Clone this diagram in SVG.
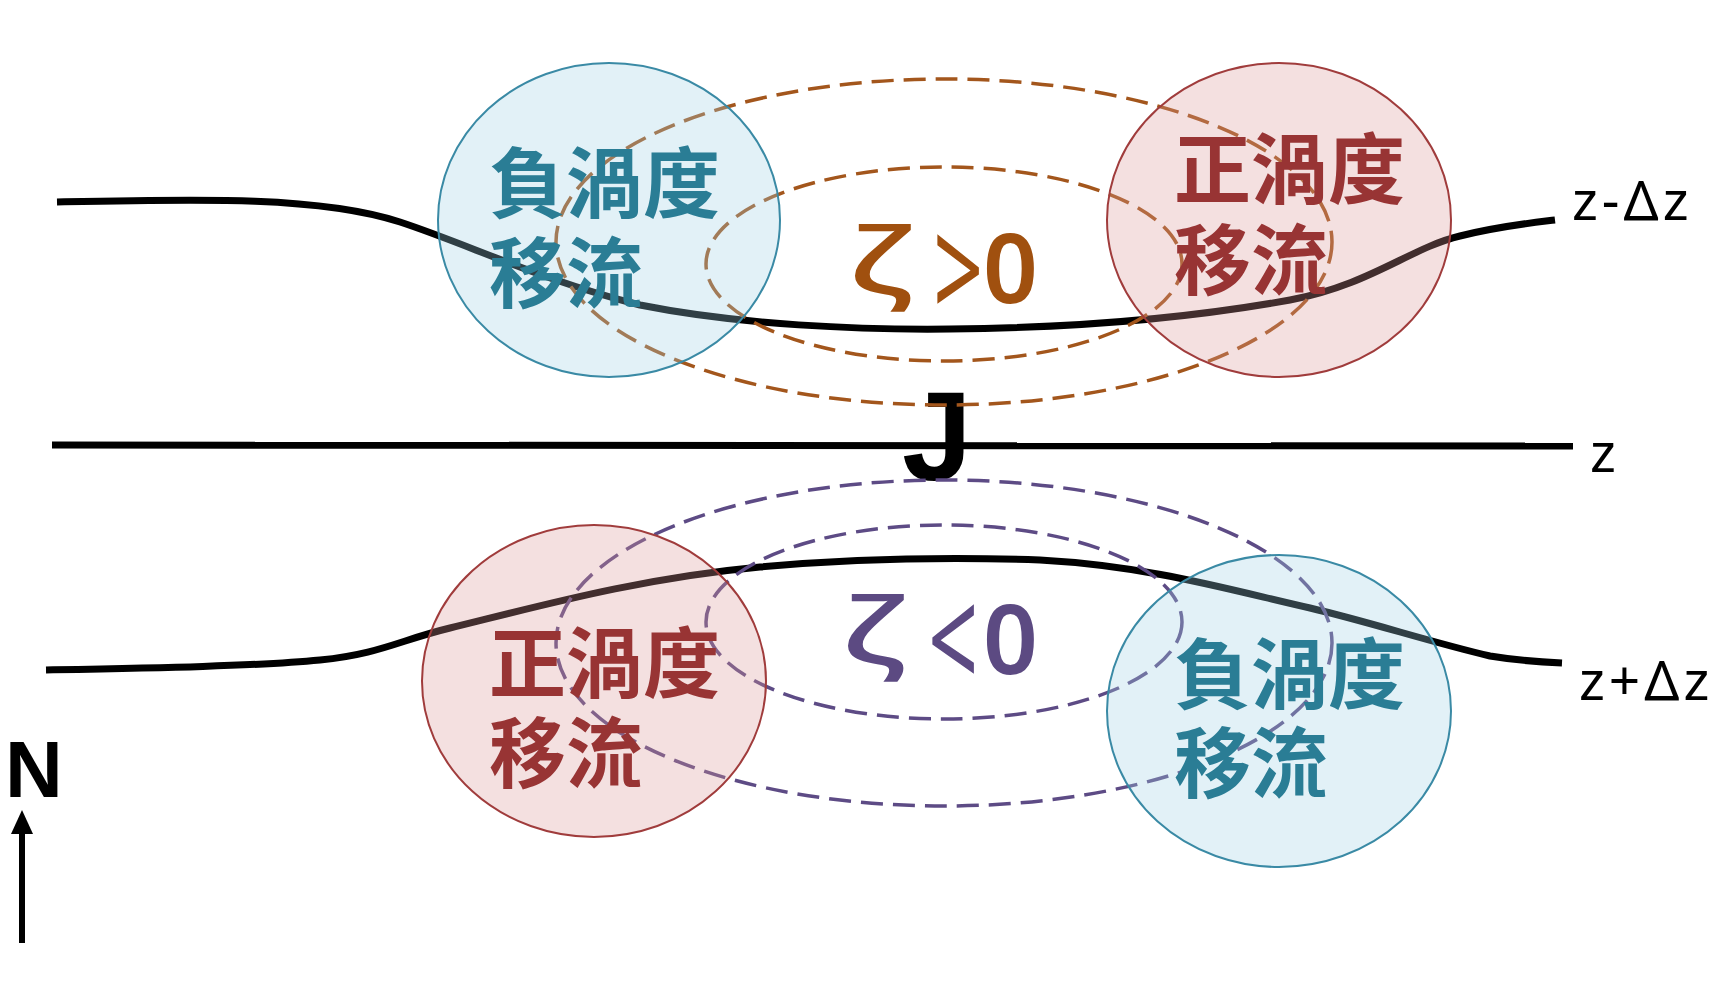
<svg xmlns="http://www.w3.org/2000/svg" width="1722" height="992" viewBox="0 0 1722 992">
<style>
.iso{fill:none;stroke:#000;stroke-width:7;stroke-linecap:butt}
.lbl{font-family:"Noto Sans","Open Sans",sans-serif;font-size:55px;fill:#000;letter-spacing:4px}
.dashB{fill:none;stroke:#a3561c;stroke-width:3.5;stroke-dasharray:22 10}
.dashP{fill:none;stroke:#5d4b85;stroke-width:3.5;stroke-dasharray:22 10}
.cB{fill:#9ed0e4;fill-opacity:0.3;stroke:#3a8aa5;stroke-width:2}
.cR{fill:#da9898;fill-opacity:0.3;stroke:#a03c3c;stroke-width:2}
.cjk{font-family:"Noto Sans CJK TC","Noto Sans CJK SC",sans-serif;font-size:77px;font-weight:bold}
.tB{fill:#2a7d95}
.tR{fill:#983434}
.zg{font-family:"Noto Sans",sans-serif;font-size:90px;font-weight:500}
.op{font-family:"Noto Sans",sans-serif;font-size:88px;font-weight:400}
.zero{font-family:"Noto Sans",sans-serif;font-size:96px;font-weight:600}
</style>
<rect width="1722" height="992" fill="#fff"/>
<g id="isolines">
<path class="iso" d="M57,202 C200,199 320,196 400,222 C470,245 540,280 640,305 C740,325 860,330 950,329 C1060,328 1180,320 1290,300 C1370,285 1410,248 1460,236 C1500,226 1530,223 1555,220"/>
<path class="iso" d="M52,445 L1573,446"/>
<path class="iso" d="M46,670 C150,668 260,666 320,660 C380,654 400,640 450,628 C540,606 640,578 760,567 C850,559 950,557 1040,560 C1150,566 1230,590 1310,608 C1370,622 1430,642 1490,656 C1520,661 1540,662 1562,663"/>
</g>
<g id="labels">
<text class="lbl" x="1572" y="220">z-Δz</text>
<text class="lbl" x="1590" y="472">z</text>
<text class="lbl" x="1579" y="700">z+Δz</text>
</g>
<text id="jet" x="937" y="480" text-anchor="middle" font-family="'Liberation Sans',Arial,sans-serif" font-weight="bold" font-size="126" fill="#000">J</text>
<g id="connectors">
<ellipse class="dashB" cx="944" cy="242" rx="388" ry="163"/>
<ellipse class="dashB" cx="944" cy="264" rx="238" ry="97"/>
<ellipse class="dashP" cx="944" cy="643" rx="388" ry="163"/>
<ellipse class="dashP" cx="944" cy="622" rx="238" ry="97"/>
</g>
<g id="node-neg-top">
<ellipse class="cB" cx="609" cy="220" rx="171" ry="157"/>
<text class="cjk tB" x="489" y="212">負渦度</text>
<text class="cjk tB" x="489" y="302">移流</text>
</g>
<g id="node-pos-top">
<ellipse class="cR" cx="1279" cy="220" rx="172" ry="157"/>
<text class="cjk tR" x="1174" y="198">正渦度</text>
<text class="cjk tR" x="1174" y="289">移流</text>
</g>
<g id="node-pos-bottom">
<ellipse class="cR" cx="594" cy="681" rx="172" ry="156"/>
<text class="cjk tR" x="489" y="692">正渦度</text>
<text class="cjk tR" x="489" y="782">移流</text>
</g>
<g id="node-neg-bottom">
<ellipse class="cB" cx="1279" cy="711" rx="172" ry="156"/>
<text class="cjk tB" x="1174" y="703">負渦度</text>
<text class="cjk tB" x="1174" y="792">移流</text>
</g>
<g id="zeta-pos" fill="#a0500f">
<text class="zg" transform="translate(848,293) scale(1.5,1)">ζ</text>
<text class="op" transform="translate(933,320) scale(1,1.6)">&gt;</text>
<text class="zero" x="983" y="303" font-weight="bold">0</text>
</g>
<g id="zeta-neg" fill="#5c4a82">
<text class="zg" transform="translate(841,663) scale(1.5,1)">ζ</text>
<text class="op" transform="translate(928,690) scale(1,1.6)">&lt;</text>
<text class="zero" x="983" y="674">0</text>
</g>
<g id="north">
<text x="34" y="797" text-anchor="middle" font-family="'Liberation Sans',Arial,sans-serif" font-weight="bold" font-size="80" fill="#000">N</text>
<line x1="22" y1="943" x2="22" y2="830" stroke="#000" stroke-width="6"/>
<polygon points="22,810 11,834 33,834" fill="#000"/>
</g>
</svg>
